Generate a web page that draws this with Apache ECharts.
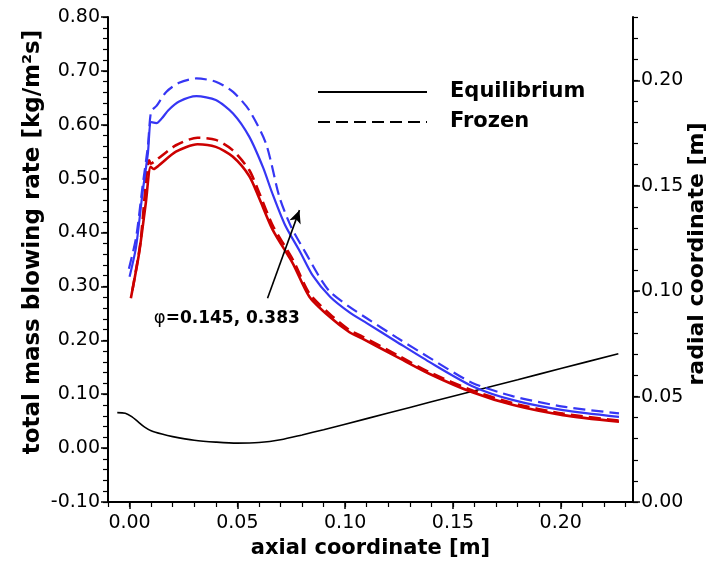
<!DOCTYPE html>
<html>
<head>
<meta charset="utf-8">
<script src="https://cdn.jsdelivr.net/npm/echarts@6/dist/echarts.min.js"></script>
<style>html,body{margin:0;padding:0;background:#fff;}#c{width:711px;height:562px;}</style>
</head>
<body>
<div id="c"></div>
<script>
// ---- data ----
// phi = 0.383, equilibrium (blue solid)
const blueEqX = [0.000, 0.003, 0.006, 0.0085, 0.0100, 0.0125, 0.015, 0.018, 0.023, 0.031, 0.040, 0.048, 0.0555, 0.062, 0.066, 0.072, 0.079, 0.085, 0.093, 0.102, 0.110, 0.124, 0.139, 0.159, 0.178, 0.201, 0.227];
const blueEqY = [0.318, 0.373, 0.473, 0.547, 0.605, 0.603, 0.612, 0.627, 0.643, 0.653, 0.646, 0.621, 0.578, 0.520, 0.475, 0.415, 0.365, 0.320, 0.281, 0.252, 0.232, 0.197, 0.160, 0.115, 0.089, 0.0705, 0.058];
// phi = 0.383, frozen (blue dashed)
const blueFrX = [-0.0003, 0.003, 0.006, 0.0085, 0.0100, 0.0125, 0.017, 0.023, 0.031, 0.040, 0.048, 0.0555, 0.0633, 0.0695, 0.075, 0.082, 0.088, 0.093, 0.102, 0.110, 0.124, 0.139, 0.159, 0.178, 0.201, 0.227];
const blueFrY = [0.333, 0.390, 0.485, 0.560, 0.625, 0.635, 0.661, 0.678, 0.686, 0.680, 0.661, 0.627, 0.565, 0.466, 0.410, 0.360, 0.318, 0.290, 0.262, 0.241, 0.205, 0.168, 0.121, 0.096, 0.077, 0.0644];
// phi = 0.145, equilibrium (red solid)
const redEqX = [0.0006, 0.0044, 0.0075, 0.0098, 0.0112, 0.0137, 0.0215, 0.0315, 0.040, 0.0478, 0.0555, 0.0600, 0.0664, 0.0757, 0.0834, 0.0928, 0.102, 0.108, 0.124, 0.139, 0.159, 0.178, 0.201, 0.227];
const redEqY = [0.278, 0.361, 0.454, 0.522, 0.518, 0.525, 0.550, 0.564, 0.559, 0.541, 0.505, 0.465, 0.405, 0.343, 0.281, 0.2436, 0.215, 0.203, 0.1694, 0.138, 0.1035, 0.0798, 0.0612, 0.0488];
// phi = 0.145, frozen (red dashed)
const redFrX = [0.0013, 0.005, 0.0091, 0.0098, 0.0125, 0.0215, 0.0315, 0.040, 0.0478, 0.0555, 0.0600, 0.0664, 0.0757, 0.0834, 0.0928, 0.102, 0.108, 0.124, 0.139, 0.159, 0.178, 0.201, 0.227];
const redFrY = [0.293, 0.380, 0.534, 0.528, 0.535, 0.562, 0.576, 0.572, 0.553, 0.516, 0.475, 0.413, 0.350, 0.287, 0.249, 0.219, 0.207, 0.173, 0.141, 0.107, 0.083, 0.064, 0.051];
// body contour: radial coordinate (right axis)
const bodyX = [-0.0057, -0.002, 0.001, 0.004, 0.007, 0.010, 0.015, 0.020, 0.030, 0.040, 0.050, 0.060, 0.070, 0.080, 0.090, 0.100, 0.120, 0.140, 0.160, 0.180, 0.200, 0.2267];
const bodyR = [0.0424, 0.0421, 0.0405, 0.0380, 0.0355, 0.0338, 0.0322, 0.0310, 0.0293, 0.0284, 0.0279, 0.0282, 0.0295, 0.0318, 0.0343, 0.0369, 0.0422, 0.0475, 0.0528, 0.0580, 0.0633, 0.0703];

// ---- ticks ----
const xTicks = [0.00, 0.05, 0.10, 0.15, 0.20];
const yLeftTicks = [-0.10, 0.00, 0.10, 0.20, 0.30, 0.40, 0.50, 0.60, 0.70, 0.80];
const yRightTicks = [0.00, 0.05, 0.10, 0.15, 0.20];
const xRange = [-0.01, 0.2335];
const yLeftRange = [-0.10, 0.80];
const yRightRange = [0.00, 0.23];

// ---- titles, legend & annotation ----
const xTitle = 'axial coordinate [m]';
const yLeftTitle = 'total mass blowing rate [kg/m²s]';
const yRightTitle = 'radial coordinate [m]';
const legendNames = ['Equilibrium', 'Frozen'];
const annotText = ['φ', '=0.145, 0.383'];
const annotTextAt = [0.0451, 0.241];
const arrowFrom = [0.064, 0.278];
const arrowTo = [0.0788, 0.4416];

function minorList(lo, hi, step) {
  const out = [];
  const n = Math.round((hi - lo) / step);
  for (let i = 0; i <= n; i++) out.push(+(lo + i * step).toFixed(4));
  return out;
}
const xMinor = minorList(-0.01, 0.23, 0.01);
const yLeftMinor = minorList(-0.10, 0.80, 0.02);
const yRightMinor = minorList(0.00, 0.23, 0.01);

const zip = (xs, ys) => xs.map((x, i) => [x, ys[i]]);
const FONT = 'DejaVu Sans';
const BLUE = '#3636f4';
const RED = '#cc0000';
const DASH = [12, 6];

function mainAxis(extra, ticks, margin) {
  return Object.assign({
    type: 'value',
    axisLine: { show: true, onZero: false, lineStyle: { color: '#000', width: 2 } },
    splitLine: { show: false },
    minorTick: { show: false },
    axisTick: { show: true, inside: false, length: 7, customValues: ticks, lineStyle: { color: '#000', width: 1.5 } },
    axisLabel: { color: '#000', fontFamily: FONT, fontSize: 19, margin: margin, customValues: ticks, formatter: v => v.toFixed(2) }
  }, extra);
}
function minorAxis(extra, ticks) {
  return Object.assign({
    type: 'value',
    axisLine: { show: false, onZero: false },
    splitLine: { show: false },
    axisLabel: { show: false },
    axisTick: { show: true, inside: false, length: 5, customValues: ticks, lineStyle: { color: '#000', width: 1.2 } }
  }, extra);
}

const chart = echarts.init(document.getElementById('c'), null, { renderer: 'canvas' });
const option = {
  animation: false,
  backgroundColor: '#fff',
  grid: { left: 108, right: 78, top: 17, bottom: 60, containLabel: false, outerBoundsMode: 'none' },
  xAxis: [
    mainAxis({
      min: xRange[0], max: xRange[1], position: 'bottom',
      name: xTitle, nameLocation: 'middle', nameGap: 32,
      nameTextStyle: { color: '#000', fontFamily: FONT, fontSize: 21, fontWeight: 'bold' }
    }, xTicks, 12),
    minorAxis({ min: xRange[0], max: xRange[1], position: 'bottom' }, xMinor)
  ],
  yAxis: [
    mainAxis({ min: yLeftRange[0], max: yLeftRange[1], position: 'left' }, yLeftTicks, 8),
    mainAxis({ min: yRightRange[0], max: yRightRange[1], position: 'right' }, yRightTicks, 8),
    minorAxis({ min: yLeftRange[0], max: yLeftRange[1], position: 'left' }, yLeftMinor),
    minorAxis({ min: yRightRange[0], max: yRightRange[1], position: 'right' }, yRightMinor)
  ],
  graphic: [
    { type: 'text', x: 33, y: 242, rotation: Math.PI / 2,
      style: { text: yLeftTitle, font: 'bold 23px "DejaVu Sans"', fill: '#000', align: 'center', verticalAlign: 'middle' } },
    { type: 'text', x: 697, y: 254, rotation: Math.PI / 2,
      style: { text: yRightTitle, font: 'bold 22px "DejaVu Sans"', fill: '#000', align: 'center', verticalAlign: 'middle' } },
    { type: 'line', shape: { x1: 318, y1: 92, x2: 427, y2: 92 }, style: { stroke: '#000', lineWidth: 2 } },
    { type: 'line', shape: { x1: 318, y1: 122, x2: 427, y2: 122 }, style: { stroke: '#000', lineWidth: 2, lineDash: DASH } },
    { type: 'text', x: 450, y: 92, style: { text: legendNames[0], font: 'bold 21px "DejaVu Sans"', fill: '#000', verticalAlign: 'middle', align: 'left' } },
    { type: 'text', x: 450, y: 122, style: { text: legendNames[1], font: 'bold 21px "DejaVu Sans"', fill: '#000', verticalAlign: 'middle', align: 'left' } }
  ],
  series: [
    { name: 'body', type: 'line', yAxisIndex: 1, data: zip(bodyX, bodyR), symbol: 'none', smooth: 0.3,
      lineStyle: { color: '#000', width: 1.6 }, silent: true },
    { name: 'red-eq', type: 'line', yAxisIndex: 0, data: zip(redEqX, redEqY), symbol: 'none', smooth: 0.25,
      lineStyle: { color: RED, width: 2.6 }, silent: true,
      markLine: {
        silent: true, symbol: ['none', 'arrow'], symbolSize: [9, 13],
        lineStyle: { color: '#000', width: 1.6, type: 'solid' }, label: { show: false },
        data: [[{ coord: arrowFrom }, { coord: arrowTo }]]
      },
      markPoint: {
        silent: true, symbol: 'circle', symbolSize: 0,
        data: [{ coord: annotTextAt }],
        label: {
          show: true, position: 'inside', formatter: () => '{p|' + annotText[0] + '}{b|' + annotText[1] + '}',
          rich: {
            p: { fontFamily: FONT, fontSize: 18, color: '#000' },
            b: { fontFamily: FONT, fontSize: 17, fontWeight: 'bold', color: '#000' }
          }
        }
      }
    },
    { name: 'red-fr', type: 'line', yAxisIndex: 0, data: zip(redFrX, redFrY), symbol: 'none', smooth: 0.25,
      lineStyle: { color: RED, width: 2.6, type: DASH }, silent: true },
    { name: 'blue-eq', type: 'line', yAxisIndex: 0, data: zip(blueEqX, blueEqY), symbol: 'none', smooth: 0.25,
      lineStyle: { color: BLUE, width: 2.2 }, silent: true },
    { name: 'blue-fr', type: 'line', yAxisIndex: 0, data: zip(blueFrX, blueFrY), symbol: 'none', smooth: 0.25,
      lineStyle: { color: BLUE, width: 2.2, type: DASH }, silent: true }
  ]
};
chart.setOption(option);
</script>
</body>
</html>
